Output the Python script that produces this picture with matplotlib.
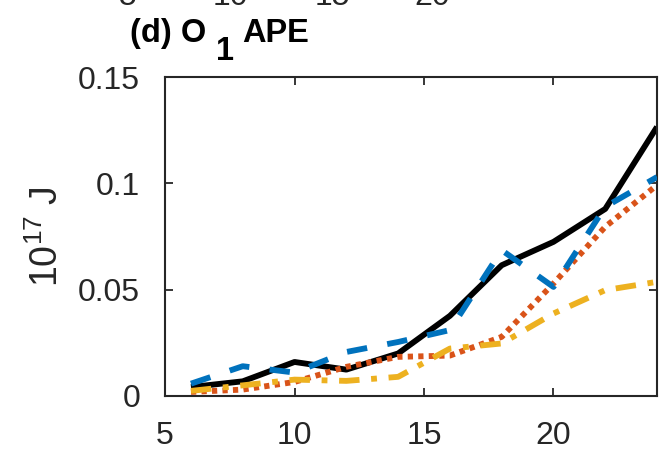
import matplotlib
matplotlib.use("Agg")
import matplotlib.pyplot as plt

plt.rcParams["font.family"] = ["Liberation Sans", "DejaVu Sans"]
plt.rcParams["mathtext.fontset"] = "custom"
plt.rcParams["mathtext.rm"] = "Liberation Sans"

# APE of O1 vs. forcing (x)
x = [6, 8, 10, 12, 14, 16, 18, 20, 22, 24]
black = [0.0042, 0.0069, 0.0160, 0.0124, 0.0200, 0.0377, 0.0615, 0.0725, 0.0880, 0.1266]
blue = [0.0058, 0.0140, 0.0110, 0.0207, 0.0254, 0.0310, 0.0686, 0.0513, 0.0890, 0.1030]
red = [0.0019, 0.0030, 0.0066, 0.0137, 0.0184, 0.0190, 0.0278, 0.0529, 0.0796, 0.0992]
yellow = [0.0024, 0.0050, 0.0077, 0.0071, 0.0090, 0.0223, 0.0247, 0.0388, 0.0498, 0.0537]
xticks = [5, 10, 15, 20]
yticks = [0, 0.05, 0.1, 0.15]
yticklabels = ["0", "0.05", "0.1", "0.15"]

AX = "#262626"
W, H = 663, 451
fig = plt.figure(figsize=(W / 100, H / 100), dpi=100)
ax = fig.add_axes([0.249, 0.122, 0.742, 0.707])

lw = 4.2
ax.plot(x, black, color="black", lw=lw, solid_capstyle="butt", zorder=2)
ax.plot(x, blue, color="#0072BD", lw=lw, dashes=(3.5, 3.5), zorder=5)
ax.plot(x, red, color="#D95319", lw=lw, dashes=(0.9, 0.9), zorder=3)
ax.plot(x, yellow, color="#EDB120", lw=lw, dashes=(3.5, 2, 1, 2), zorder=4)

ax.set_xlim(5, 24)
ax.set_ylim(0, 0.15)
ax.set_xticks(xticks)
ax.set_yticks(yticks)
ax.set_yticklabels(yticklabels)
ax.tick_params(direction="in", length=6, width=1.3, colors=AX, labelsize=23,
               top=True, right=True)
ax.tick_params(axis="x", pad=18)
ax.tick_params(axis="y", pad=18)
for s in ax.spines.values():
    s.set_color(AX)
    s.set_linewidth(1.5)
ax.set_ylabel(r"10$^{17}$ J", fontsize=27, color=AX, labelpad=9)

# title "(d) O_1 APE" in pieces, MATLAB-style subscript
tkw = dict(fontsize=23.5, fontweight="bold", ha="left", va="baseline", color="black")
fig.text(130 / W, 1 - 42 / H, "(d) O", **tkw)
fig.text(216 / W, 1 - 60 / H, "1", **tkw)
fig.text(242 / W, 1 - 42 / H, "APE", **tkw)

# cut-off tick labels of the panel above
for px, lab in zip([128, 230, 332, 432], ["5", "10", "15", "20"]):
    fig.text(px / W, 1 - 5 / H, lab, fontsize=23, color=AX, ha="center", va="baseline")

fig.savefig("out.png", dpi=100)
